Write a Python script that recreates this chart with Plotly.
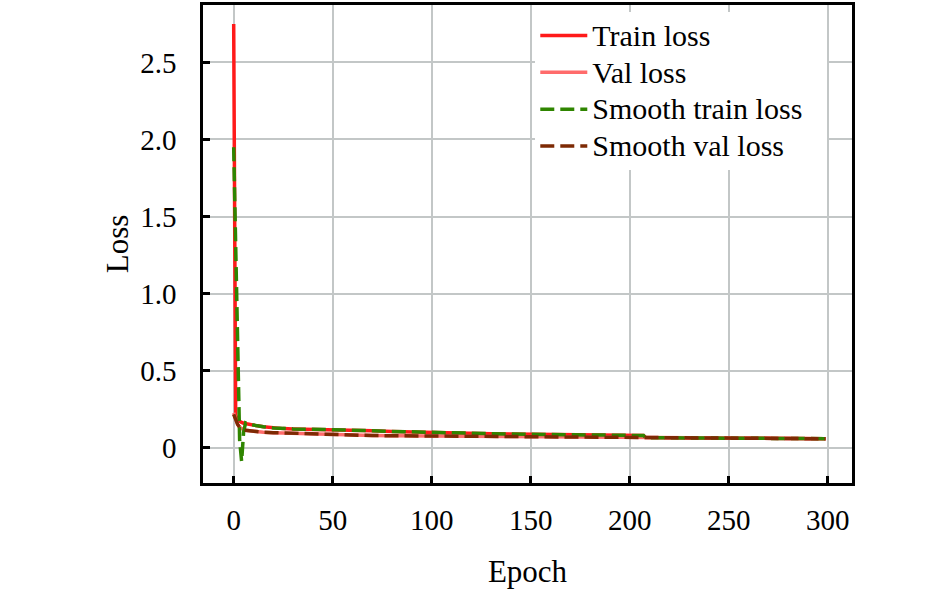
import plotly.graph_objects as go

epochs = [0, 1, 2, 3, 4, 5, 6, 7, 8, 10, 12, 15, 20, 25, 30, 40, 50, 60, 70, 80, 90,
          100, 110, 120, 130, 140, 150, 160, 170, 180, 190, 200, 207, 208, 210,
          220, 230, 240, 250, 260, 270, 280, 290, 299]

train_loss = [2.75, 0.21, 0.18, 0.17, 0.163, 0.158, 0.155, 0.152, 0.15, 0.146, 0.141,
              0.135, 0.127, 0.123, 0.121, 0.119, 0.117, 0.113, 0.109, 0.105, 0.101,
              0.098, 0.095, 0.092, 0.09, 0.088, 0.086, 0.084, 0.083, 0.082, 0.08,
              0.079, 0.078, 0.065, 0.064, 0.063, 0.062, 0.061, 0.06, 0.06, 0.059,
              0.059, 0.058, 0.058]

val_loss = [0.225, 0.185, 0.15, 0.132, 0.122, 0.116, 0.112, 0.11, 0.108, 0.104, 0.101,
            0.099, 0.097, 0.095, 0.092, 0.086, 0.082, 0.08, 0.078, 0.077, 0.076,
            0.073, 0.071, 0.07, 0.069, 0.068, 0.067, 0.066, 0.066, 0.065, 0.065,
            0.064, 0.064, 0.063, 0.063, 0.062, 0.061, 0.06, 0.06, 0.059, 0.059,
            0.058, 0.058, 0.057]

smooth_train_loss = [1.95, 1.25, 0.55, 0.05, -0.09, 0.1, 0.16, 0.152, 0.15, 0.146, 0.141,
                     0.135, 0.127, 0.123, 0.121, 0.119, 0.117, 0.113, 0.109, 0.105, 0.101,
                     0.098, 0.095, 0.092, 0.09, 0.088, 0.086, 0.084, 0.083, 0.082, 0.08,
                     0.079, 0.078, 0.065, 0.064, 0.063, 0.062, 0.061, 0.06, 0.06, 0.059,
                     0.059, 0.058, 0.058]

smooth_val_loss = [0.215, 0.18, 0.15, 0.132, 0.122, 0.116, 0.112, 0.11, 0.108, 0.104, 0.101,
                   0.099, 0.097, 0.095, 0.092, 0.086, 0.082, 0.08, 0.078, 0.077, 0.076,
                   0.073, 0.071, 0.07, 0.069, 0.068, 0.067, 0.066, 0.066, 0.065, 0.065,
                   0.064, 0.064, 0.063, 0.063, 0.062, 0.061, 0.06, 0.06, 0.059, 0.059,
                   0.058, 0.058, 0.057]

series_names = ["Train loss", "Val loss", "Smooth train loss", "Smooth val loss"]

x_ticks = [0, 50, 100, 150, 200, 250, 300]
y_ticks = [0, 0.5, 1.0, 1.5, 2.0, 2.5]
y_ticklabels = ["0", "0.5", "1.0", "1.5", "2.0", "2.5"]

FONT = "Liberation Serif"


def legend_label(text, pad=""):
    return "<span style='font-size:30px'>" + text + "</span>" + pad


fig = go.Figure()
fig.add_trace(go.Scatter(x=epochs, y=train_loss, mode="lines", name=legend_label(series_names[0]),
                         line=dict(color="#ff1a1a", width=3.5)))
fig.add_trace(go.Scatter(x=epochs, y=val_loss, mode="lines", name=legend_label(series_names[1]),
                         line=dict(color="#ff6b6b", width=3.5)))
fig.add_trace(go.Scatter(x=epochs, y=smooth_train_loss, mode="lines",
                         name=legend_label(series_names[2], "&nbsp;&nbsp;&nbsp;"),
                         line=dict(color="#2f8500", width=3.5, dash="14px,6px")))
fig.add_trace(go.Scatter(x=epochs, y=smooth_val_loss, mode="lines", name=legend_label(series_names[3]),
                         line=dict(color="#7d2a04", width=3.5, dash="14px,6px")))

axis_common = dict(
    showline=True, linecolor="black", linewidth=2.5, mirror=True,
    ticks="inside", ticklen=7, tickwidth=2.5, tickcolor="black",
    showgrid=True, gridcolor="#c3c7c7", gridwidth=1.5,
    zeroline=False,
    tickfont=dict(family=FONT, size=29, color="black"),
    title_font=dict(family=FONT, size=31, color="black"),
)

fig.update_layout(
    width=945, height=592,
    margin=dict(l=203, r=93, t=2, b=109),
    paper_bgcolor="white", plot_bgcolor="white",
    font=dict(family=FONT, size=29, color="black"),
    showlegend=True,
    legend=dict(x=0.512, xanchor="left", y=0.985, yanchor="top",
                bgcolor="white", borderwidth=0,
                font=dict(family=FONT, size=26, color="black"),
                itemwidth=47, tracegroupgap=0),
    xaxis=dict(range=[-15.5, 312.3], tickvals=x_ticks, title=dict(text="Epoch", standoff=26),
               ticklabelstandoff=9, **axis_common),
    yaxis=dict(range=[-0.23, 2.873], tickvals=y_ticks, ticktext=y_ticklabels,
               title=dict(text="Loss", standoff=3), ticklabelstandoff=18, **axis_common),
)

fig.write_html("out.html", config={"displayModeBar": False},
               post_script="document.body.style.margin='0px';")
